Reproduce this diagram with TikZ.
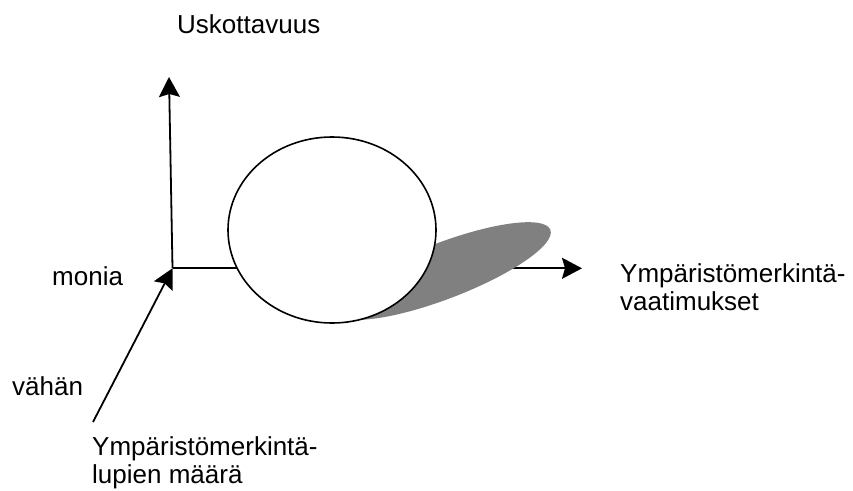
\documentclass[tikz,border=0pt]{standalone}
\usepackage{fontspec}
\setmainfont{Liberation Sans}
\usetikzlibrary{arrows.meta,positioning,shapes.geometric}
\tikzset{
    %Define standard arrow tip
    >={Stealth[length=20pt,width=21pt,inset=3pt]},
    font=\fontsize{26}{27.5}\selectfont,
    % Define axis style
    achse/.style={
           ->,
           line width=1.8pt},
    % Define style for labels
    beschr/.style={
           anchor=base west,
           inner sep=0pt,
           align=left},
    % Define style for the ball and its shadow
    kugel/.style={ellipse,fill=white,draw=black,line width=1.6pt,
           minimum width=208pt,minimum height=186pt,inner sep=0pt},
    schatten/.style={fill=black!50,draw=none}
}

\begin{document}
\begin{tikzpicture}[x=1pt,y=-1pt]
  \useasboundingbox (0,0) rectangle (853,490);
  \coordinate (O)    at (172.5,268.3);
  \coordinate (Ytop) at (169,77);
  \coordinate (Xend) at (582,268.3);
  \coordinate (Zbot) at (93,422);
  % axes
  \draw[achse] (O) -- (Ytop);
  \draw[achse] (O) -- (Xend);
  \draw[achse] (Zbot) -- (O);
  % shadow and ball
  \fill[schatten] (443,271) ellipse[x radius=115, y radius=28, rotate=21];
  \node[kugel] (ball) at (332,230) {};
  % labels
  \node[beschr] (uskott) at (177,33) {Uskottavuus};
  \node[beschr] (monia)  at (52,285) {monia};
  \node[beschr] (vahan)  at (12,395) {vähän};
  \node[beschr] (vaatim) at (620,310) {Ympäristömerkintä-\\vaatimukset};
  \node[beschr] (lupien) at (92,483) {Ympäristömerkintä-\\lupien määrä};
\end{tikzpicture}
\end{document}
